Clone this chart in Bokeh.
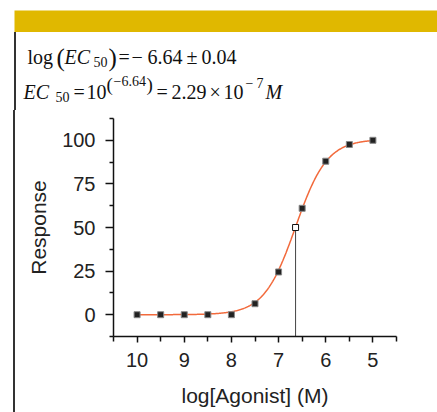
import numpy as np
from bokeh.plotting import figure
from bokeh.layouts import column, row
from bokeh.models import ColumnDataSource, FixedTicker, Range1d, Div
from bokeh.core.properties import value
from bokeh.embed import file_html
from bokeh.resources import INLINE

# ---- data ----
log_agonist = [-10.0, -9.5, -9.0, -8.5, -8.0, -7.5, -7.0, -6.5, -6.0, -5.5, -5.0]
response = [0.0, 0.0, 0.0, 0.0, 0.0, 6.3, 24.5, 61.0, 88.0, 97.6, 100.0]
log_ec50 = -6.64
ec50_response = 50.0
fit_bottom = 0.0
fit_top = 100.6
fit_hill = 1.3
x_ticks = [-10, -9, -8, -7, -6, -5]
x_tick_labels = ["10", "9", "8", "7", "6", "5"]
x_minor = [-10.5, -9.5, -8.5, -7.5, -6.5, -5.5, -4.5]
y_ticks = [0, 25, 50, 75, 100]
y_minor = [-12.5, 12.5, 37.5, 62.5, 87.5, 112.5]

# fitted 4-parameter logistic curve from the fit parameters
xc = np.linspace(log_agonist[0], log_agonist[-1], 300)
yc = fit_bottom + (fit_top - fit_bottom) / (1 + 10 ** ((log_ec50 - xc) * fit_hill))

W, H = 437, 412
HEAD = 110      # header height (px)
LEFT = 20       # left strip width (px)
X0, X1 = -10.5, -4.5
Y0, Y1 = -12.5, 112.5
FL, FR, FT, FB = 113, 396, 118, 336  # frame edges in page px

BAR = "#E0B800"
RULE = "#333333"

# ---------- header with bar and formulas ----------
head = figure(width=W, height=HEAD, output_backend="svg", toolbar_location=None,
              x_range=Range1d(0, W), y_range=Range1d(HEAD, 0),
              x_axis_type=None, y_axis_type=None,
              min_border_left=0, min_border_right=0,
              min_border_top=0, min_border_bottom=0)
head.outline_line_color = None
head.grid.visible = False
head.border_fill_color = "white"
head.quad(left=[14], right=[W], top=[10], bottom=[31.5], fill_color=BAR,
          line_color=None)
head.quad(left=[13.5], right=[15.5], top=[31.5], bottom=[HEAD], fill_color=RULE,
          line_color=None)

serif = "Liberation Serif"
pieces = [
    ("log", 27, 56, 20, "normal"),
    ("(", 56, 57, 25, "normal"),
    ("EC", 64, 56, 20, "italic"),
    ("50", 93, 61, 14, "normal"),
    (")", 108, 57, 25, "normal"),
    ("=", 118, 56, 20, "normal"),
    ("\u2212", 131, 56, 20, "normal"),
    ("6.64", 147, 56, 20, "normal"),
    ("\u00b1", 186, 56, 20, "normal"),
    ("0.04", 201, 56, 20, "normal"),
    ("EC", 23, 91, 20, "italic"),
    ("50", 55, 96, 14, "normal"),
    ("=", 73, 91, 20, "normal"),
    ("10", 86, 91, 20, "normal"),
    ("(", 106, 84, 19, "normal"),
    ("\u22126.64", 113, 80, 14, "normal"),
    (")", 146, 84, 19, "normal"),
    ("=", 156, 91, 20, "normal"),
    ("2.29", 171, 91, 20, "normal"),
    ("\u00d7", 209, 91, 20, "normal"),
    ("10", 223, 91, 20, "normal"),
    ("\u2212", 245, 82, 14, "normal"),
    ("7", 256, 82, 14, "normal"),
    ("M", 265, 91, 20, "italic"),
]
for t, px, py, fs, st in pieces:
    head.text(x=[px], y=[py], text=[t], text_font=value(serif),
              text_font_size=f"{fs}px", text_font_style=st,
              text_color="#111111", text_align="left",
              text_baseline="alphabetic")

# ---------- left strip with the rule ----------
BH = H - HEAD
strip = Div(text="", width=LEFT, height=BH, margin=0,
            styles={"background": "linear-gradient(to right, #ffffff 0px, #ffffff 13.5px, "
                                  "#333333 13.5px, #333333 15.5px, #ffffff 15.5px)"})

# ---------- main chart ----------
MW = W - LEFT
p = figure(width=MW, height=BH, output_backend="svg", toolbar_location=None,
           x_range=Range1d(X0, X1), y_range=Range1d(Y0, Y1),
           min_border_left=FL - LEFT, min_border_right=W - FR,
           min_border_top=FT - HEAD, min_border_bottom=H - FB)
p.outline_line_color = None
p.xgrid.visible = False
p.ygrid.visible = False
p.background_fill_color = "white"
p.border_fill_color = "white"

xa = p.xaxis[0]
xa.ticker = FixedTicker(ticks=x_ticks, minor_ticks=x_minor)
xa.major_label_overrides = {t: l for t, l in zip(x_ticks, x_tick_labels)}
xa.axis_label = "log[Agonist] (M)"
ya = p.yaxis[0]
ya.ticker = FixedTicker(ticks=y_ticks, minor_ticks=y_minor)
ya.axis_label = "Response"
for ax in (xa, ya):
    ax.axis_line_color = "#111111"
    ax.axis_line_width = 1.5
    ax.major_tick_line_color = "#111111"
    ax.minor_tick_line_color = "#111111"
    ax.major_tick_line_width = 1.5
    ax.minor_tick_line_width = 1.5
    ax.major_tick_in = 0
    ax.minor_tick_in = 0
    ax.major_label_text_font = "Liberation Sans"
    ax.major_label_text_font_size = "20px"
    ax.major_label_text_color = "#222222"
    ax.axis_label_text_font = "Liberation Sans"
    ax.axis_label_text_font_size = "21px"
    ax.axis_label_text_font_style = "normal"
    ax.axis_label_text_color = "#222222"
xa.major_tick_out = 6
xa.minor_tick_out = 5
xa.major_label_standoff = 10
xa.axis_label_standoff = 14
ya.major_tick_out = 8
ya.minor_tick_out = 4
ya.major_label_standoff = 10
ya.axis_label_standoff = 9
ya.major_label_orientation = "horizontal"

# EC50 drop line
p.segment(x0=[log_ec50], y0=[Y0], x1=[log_ec50], y1=[ec50_response],
          line_color="#444444", line_width=1)

# fitted curve
p.line(xc, yc, line_color="#F26A3C", line_width=1.5)

# points
src = ColumnDataSource(dict(x=log_agonist, y=response))
p.scatter("x", "y", source=src, marker="square", size=6, fill_color="#222222",
          line_color="#888888", line_width=1)
p.scatter([log_ec50], [ec50_response], marker="square", size=6,
          fill_color="white", line_color="#111111", line_width=1)

layout = column(head, row(strip, p, spacing=0), spacing=0)
open("out.html", "w").write(file_html(layout, INLINE))
